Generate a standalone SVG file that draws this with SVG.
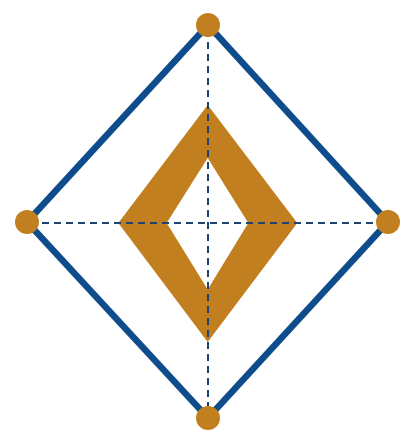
<svg xmlns="http://www.w3.org/2000/svg" width="416" height="436" viewBox="0 0 416 436">
<style>
.frame{fill:none;stroke:#0E4C8C;stroke-width:6.5;stroke-linejoin:miter}
.axis{stroke:#1D4370;stroke-width:2;stroke-dasharray:7 5}
.pt{fill:#C17F20}
.ring{fill:#C17F20;fill-rule:evenodd}
</style>
<rect width="416" height="436" fill="#ffffff"/>
<g id="outer-diamond">
<polygon class="frame" points="208,25 27,222 208,418 388,222"/>
</g>
<g id="inner-ring">
<path class="ring" d="M207.7,105 L118.3,223 L207.7,342 L297.3,223 Z M207.7,158 L248.3,223 L207.7,289.5 L166.7,223 Z"/>
</g>
<g id="axes">
<line class="axis" x1="208" y1="30" x2="208" y2="414"/>
<line class="axis" x1="30" y1="223" x2="386" y2="223"/>
</g>
<g id="vertex-top"><circle class="pt" cx="208" cy="25" r="12"/></g>
<g id="vertex-left"><circle class="pt" cx="27" cy="222" r="12"/></g>
<g id="vertex-right"><circle class="pt" cx="388" cy="222" r="12"/></g>
<g id="vertex-bottom"><circle class="pt" cx="208" cy="418" r="12"/></g>
</svg>
